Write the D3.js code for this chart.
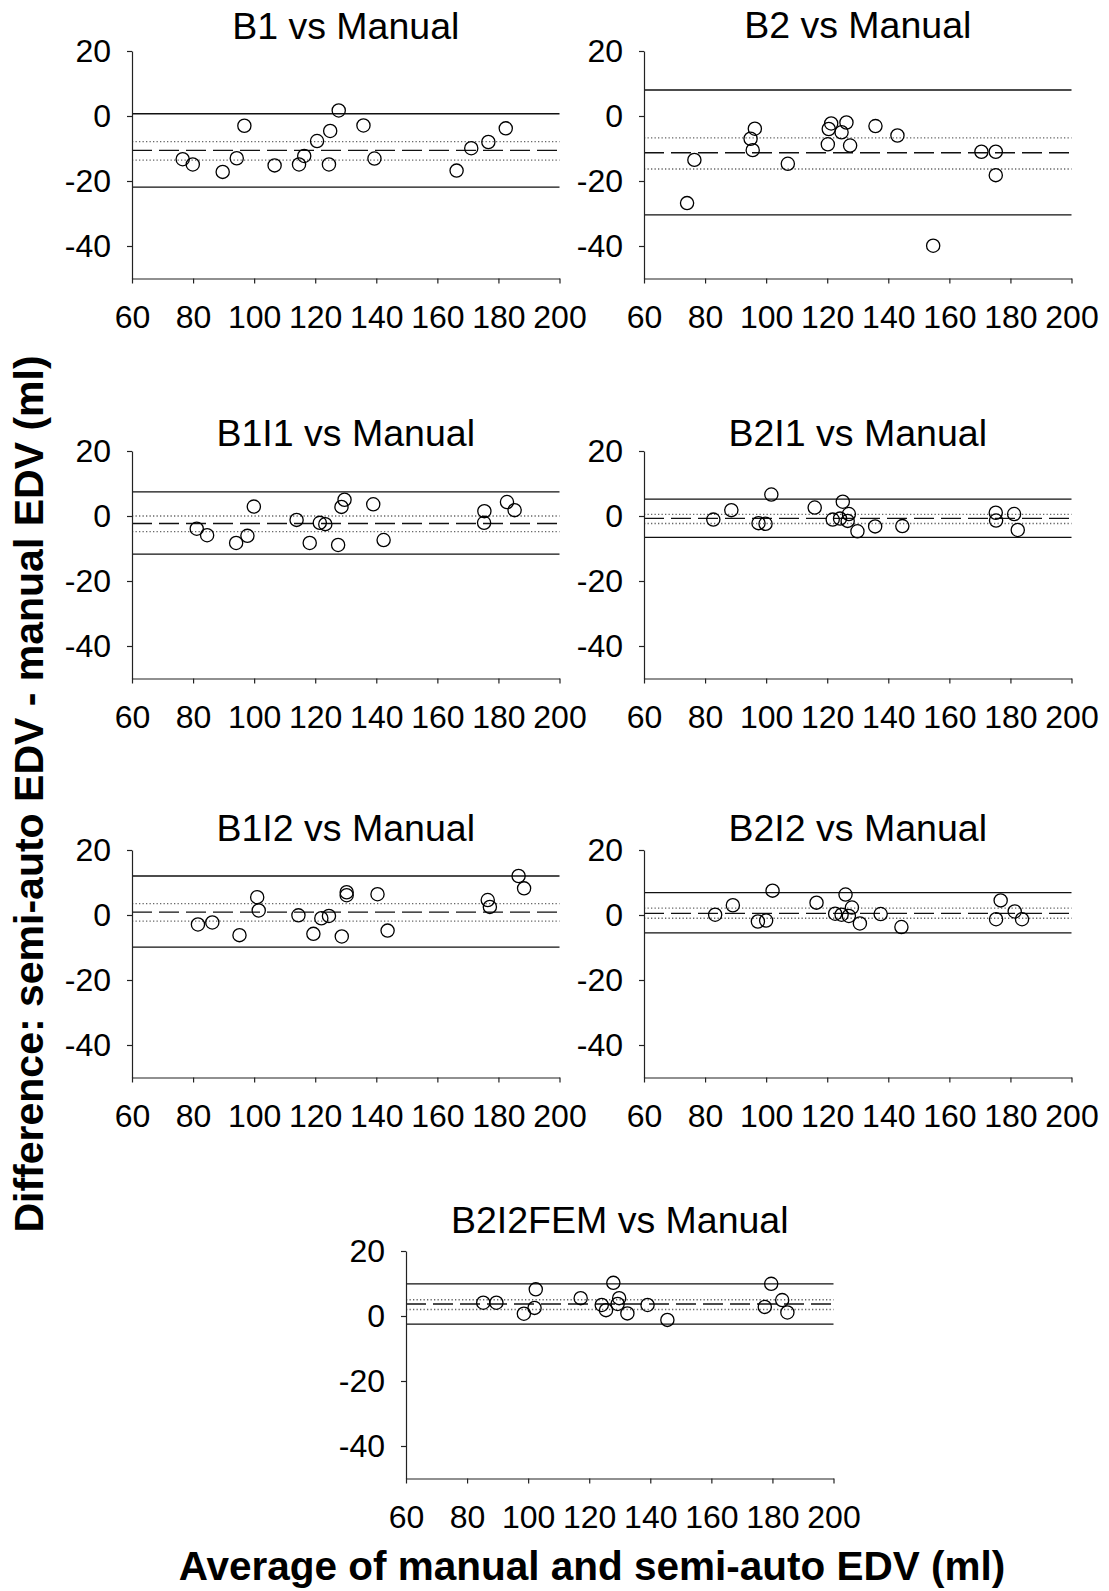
<!DOCTYPE html>
<html>
<head>
<meta charset="utf-8">
<script src="https://cdn.jsdelivr.net/npm/d3@7"></script>
<style>
  html, body { margin: 0; padding: 0; background: #fff; }
  svg { display: block; }
  text { font-family: "Liberation Sans", Arial, Helvetica, sans-serif; fill: #000; }
</style>
</head>
<body>
<svg id="chart" width="1109" height="1591"></svg>
<script>
// Bland-Altman panels: difference vs. average of semi-automatic and manual EDV (ml)
const titles = ["B1 vs Manual", "B2 vs Manual", "B1I1 vs Manual", "B2I1 vs Manual",
                "B1I2 vs Manual", "B2I2 vs Manual", "B2I2FEM vs Manual"];
const xTicks = [60, 80, 100, 120, 140, 160, 180, 200];
const yTicks = [20, 0, -20, -40];

// Average (x) and difference (y) for each method
const avgB1  = [76.6, 79.9, 89.7, 94.3, 96.8, 106.7, 114.7, 116.4, 120.6, 124.5, 124.9, 127.7, 135.8, 139.4, 166.3, 171.1, 176.7, 182.4];
const diffB1 = [-13.3, -14.9, -17.2, -13.0, -3.0, -15.2, -14.9, -12.3, -7.7, -14.9, -4.6, 1.7, -2.9, -13.1, -16.8, -9.9, -8.0, -3.8];

const avgB2  = [74.1, 76.5, 94.9, 96.3, 95.6, 107.1, 120.2, 120.5, 121.3, 124.7, 126.3, 127.5, 135.8, 143.0, 154.7, 170.5, 175.2, 175.2];
const diffB2 = [-26.8, -13.5, -7.0, -3.9, -10.5, -14.7, -8.7, -4.0, -2.3, -5.0, -2.0, -9.1, -3.1, -6.0, -39.9, -11.0, -11.0, -18.2];

const avgB1I1  = [81.2, 84.6, 94.1, 97.8, 99.9, 113.9, 118.2, 121.5, 123.3, 127.5, 128.6, 129.6, 139.0, 142.4, 175.4, 175.3, 182.8, 185.3];
const diffB1I1 = [-3.9, -5.9, -8.3, -6.1, 2.9, -1.2, -8.3, -2.1, -2.5, -8.9, 2.8, 5.0, 3.6, -7.4, 1.5, -2.1, 4.3, 1.8];

const avgB2I1  = [82.7, 88.6, 97.5, 99.8, 101.7, 115.9, 121.8, 124.2, 125.1, 127.1, 126.7, 129.9, 135.7, 144.6, 175.2, 175.3, 181.2, 182.4];
const diffB2I1 = [-1.1, 1.8, -2.2, -2.4, 6.6, 2.6, -1.1, -0.8, 4.4, 0.6, -1.5, -4.7, -3.2, -3.1, 1.0, -1.4, 0.6, -4.3];

const avgB1I2  = [81.6, 86.3, 95.2, 101.0, 101.5, 114.5, 119.4, 122.0, 124.5, 128.7, 130.3, 130.3, 140.4, 143.7, 176.5, 177.2, 186.6, 188.4];
const diffB1I2 = [-2.9, -2.3, -6.2, 5.5, 1.4, -0.1, -5.8, -1.0, -0.3, -6.6, 7.0, 6.1, 6.4, -4.8, 4.6, 2.5, 12.0, 8.2];

const avgB2I2  = [83.3, 89.1, 97.3, 100.0, 102.1, 116.5, 122.6, 124.7, 126.0, 127.1, 128.1, 130.7, 137.5, 144.3, 175.3, 176.8, 181.4, 183.8];
const diffB2I2 = [0.1, 3.0, -2.0, -1.7, 7.5, 3.8, 0.4, 0.1, 6.3, -0.3, 2.3, -2.6, 0.3, -3.7, -1.3, 4.5, 1.1, -1.3];

const avgFEM  = [85.3, 89.6, 98.6, 102.1, 102.5, 117.2, 124.1, 125.5, 127.9, 129.8, 129.3, 132.5, 139.1, 145.6, 177.5, 179.6, 183.2, 184.9];
const diffFEM = [4.1, 4.1, 0.7, 2.5, 8.2, 5.5, 3.4, 1.8, 10.2, 5.5, 3.7, 0.8, 3.4, -1.2, 2.8, 9.9, 4.9, 1.1];

// Reference lines per panel: mean difference, its 95% CI, and limits of agreement
const meanDiff = [-10.6, -11.3, -2.3, -0.7, 0.9, 0.5, 3.7];
const ciUpper  = [-7.9, -6.7, 0.0, 0.5, 3.5, 2.1, 5.0];
const ciLower  = [-13.6, -16.3, -4.8, -2.3, -1.9, -1.0, 2.0];
const loaUpper = [0.7, 8.0, 7.4, 5.2, 12.0, 6.9, 9.9];
const loaLower = [-21.9, -30.4, -11.7, -6.6, -9.9, -5.5, -2.5];

const avgs  = [avgB1, avgB2, avgB1I1, avgB2I1, avgB1I2, avgB2I2, avgFEM];
const diffs = [diffB1, diffB2, diffB1I1, diffB2I1, diffB1I2, diffB2I2, diffFEM];

// Plot-area placement of each panel (left, top) and title baseline
const layout = [
  { left: 132, top: 51,   titleY: 39 },
  { left: 644, top: 51,   titleY: 38 },
  { left: 132, top: 451,  titleY: 446 },
  { left: 644, top: 451,  titleY: 446 },
  { left: 132, top: 850,  titleY: 841 },
  { left: 644, top: 850,  titleY: 841 },
  { left: 406, top: 1251, titleY: 1233 }
];
const plotW = 427.5, plotH = 227.5;

const svg = d3.select("#chart");
const plainNum = d => String(d);   // hyphen-minus, as in the axis labels

titles.forEach((title, i) => {
  const L = layout[i];
  const x = d3.scaleLinear().domain([60, 200]).range([L.left, L.left + plotW]);
  const y = d3.scaleLinear().domain([-50, 20]).range([L.top + plotH, L.top]);
  const g = svg.append("g");

  // title
  g.append("text")
    .attr("x", L.left + plotW / 2)
    .attr("y", L.titleY)
    .attr("text-anchor", "middle")
    .style("font-size", "37.5px")
    .text(title);

  // reference lines
  const refs = [
    { v: loaUpper[i], cls: "solid" },
    { v: ciUpper[i],  cls: "dot" },
    { v: meanDiff[i], cls: "dash" },
    { v: ciLower[i],  cls: "dot" },
    { v: loaLower[i], cls: "solid" }
  ];
  g.selectAll("line.ref").data(refs).join("line")
    .attr("class", "ref")
    .attr("x1", x(60)).attr("x2", x(200))
    .attr("y1", d => y(d.v)).attr("y2", d => y(d.v))
    .attr("stroke", d => d.cls === "dot" ? "#666" : "#111")
    .attr("stroke-width", 1.3)
    .attr("stroke-dasharray", d => d.cls === "dot" ? "1.3,2.2" : d.cls === "dash" ? "20,7" : null);

  // points
  g.selectAll("circle").data(avgs[i].map((a, k) => [a, diffs[i][k]])).join("circle")
    .attr("cx", d => x(d[0]))
    .attr("cy", d => y(d[1]))
    .attr("r", 6.6)
    .attr("fill", "none")
    .attr("stroke", "#000")
    .attr("stroke-width", 1.3);

  // axes
  const xAxis = g.append("g")
    .attr("transform", `translate(0,${L.top + plotH})`)
    .call(d3.axisBottom(x).tickValues(xTicks).tickFormat(plainNum)
      .tickSizeInner(5).tickSizeOuter(0).tickPadding(22));
  const yAxis = g.append("g")
    .attr("transform", `translate(${L.left},0)`)
    .call(d3.axisLeft(y).tickValues(yTicks).tickFormat(plainNum)
      .tickSizeInner(5).tickSizeOuter(0).tickPadding(16));

  [xAxis, yAxis].forEach(ax => {
    ax.select(".domain").attr("stroke", "#222").attr("stroke-width", 1.2);
    ax.selectAll(".tick line").attr("stroke", "#222").attr("stroke-width", 1.2);
    ax.selectAll(".tick text")
      .style("font-size", "32px")
      .style("font-family", "'Liberation Sans', Arial, sans-serif")
      .attr("fill", "#000");
  });
});

// shared axis titles
svg.append("text")
  .attr("transform", "translate(43,794) rotate(-90)")
  .attr("text-anchor", "middle")
  .style("font-size", "41px")
  .style("font-weight", "bold")
  .text("Difference: semi-auto EDV - manual EDV (ml)");

svg.append("text")
  .attr("x", 592)
  .attr("y", 1580)
  .attr("text-anchor", "middle")
  .style("font-size", "40.5px")
  .style("font-weight", "bold")
  .text("Average of manual and semi-auto EDV (ml)");
</script>
</body>
</html>
